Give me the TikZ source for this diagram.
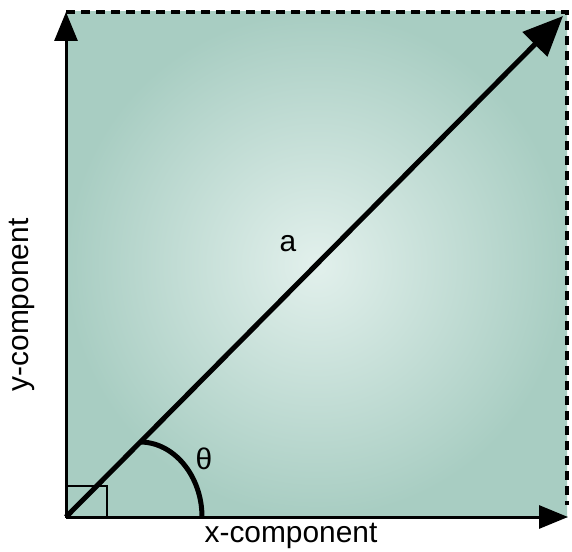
\documentclass[tikz,border=0pt]{standalone}
\usepackage{fontspec}
\setmainfont{Liberation Sans}
\usetikzlibrary{arrows.meta}
\definecolor{bgout}{RGB}{168,205,194}
\definecolor{bgin}{RGB}{226,240,236}
\tikzset{
  axis/.style={line width=3bp,-{Triangle[length=29bp,width=23bp]}},
  vec/.style={line width=5bp,-{Triangle[length=40bp,width=34bp]}},
  dashedge/.style={line width=4bp,dash pattern=on 9bp off 6bp},
  lbl/.style={font=\fontsize{30}{34}\selectfont,inner sep=0pt},
}
\begin{document}
\begin{tikzpicture}[x=1bp,y=-1bp]
\useasboundingbox (0,0) rectangle (572,552);
\coordinate (O) at (66,517);
\coordinate (XE) at (568,517);
\coordinate (YE) at (66,12);
\coordinate (C) at (567,12);
\coordinate (CB) at (567,505);
\coordinate (DE) at (563,16);
\coordinate (SQ) at (107,486);
\coordinate (A1) at (140,442);
\coordinate (A2) at (202,517);
\shade[inner color=bgin,outer color=bgout] (66,12) rectangle (567,517);
\draw[dashedge] (YE) -- (C) -- (CB);
\draw[line width=2bp] (O) rectangle (SQ);
\draw[line width=5bp] (A1) .. controls (174,442) and (202,476) .. (A2);
\draw[axis] (O) -- (XE);
\draw[axis] (O) -- (YE);
\draw[vec] (O) -- (DE);
\node[lbl] (a) at (288,244) {a};
\node[lbl] (th) at (204,459) {θ};
\node[lbl] (xc) at (291,536) {x-component};
\node[lbl,rotate=90] (yc) at (22,305) {y-component};
\end{tikzpicture}
\end{document}
